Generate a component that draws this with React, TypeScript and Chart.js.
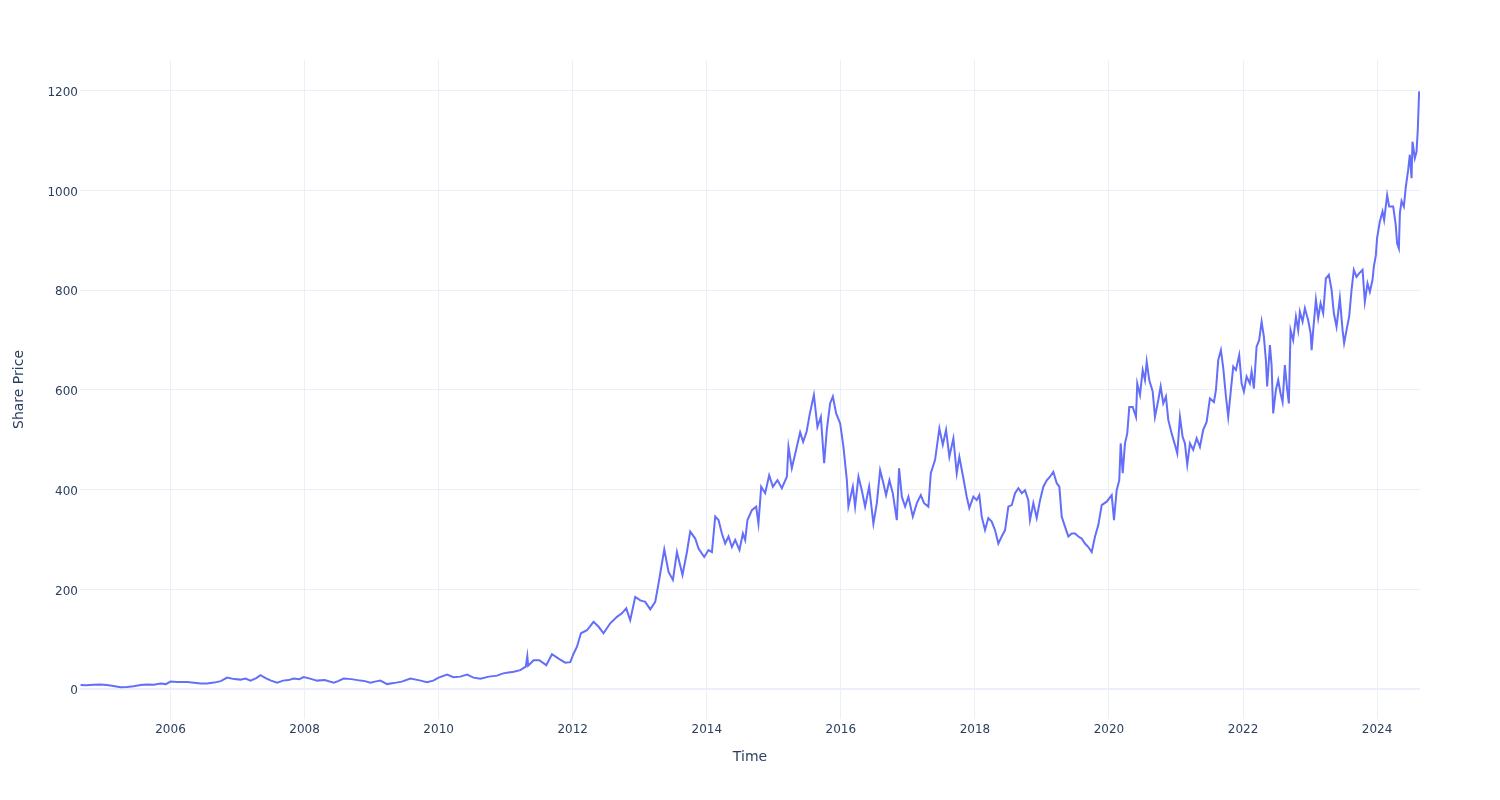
import { useEffect, useRef } from "react";
import { Chart, registerables } from "chart.js";

Chart.register(...registerables);

// Decimal years of each sampled point
const dates: number[] = [
  2004.658, 2004.75, 2004.85, 2004.956, 2005.05, 2005.15, 2005.255, 2005.35, 2005.45, 2005.553,
  2005.65, 2005.75, 2005.851, 2005.93, 2006.0, 2006.1, 2006.249, 2006.35, 2006.45, 2006.547,
  2006.65, 2006.75, 2006.845, 2006.95, 2007.044, 2007.12, 2007.193, 2007.28, 2007.342, 2007.42,
  2007.5, 2007.591, 2007.68, 2007.76, 2007.838, 2007.92, 2007.988, 2008.08, 2008.187, 2008.3,
  2008.435, 2008.5, 2008.584, 2008.7, 2008.833, 2008.9, 2008.982, 2009.05, 2009.131, 2009.231,
  2009.33, 2009.45, 2009.578, 2009.7, 2009.827, 2009.92, 2010.0, 2010.126, 2010.22, 2010.324,
  2010.424, 2010.52, 2010.622, 2010.75, 2010.871, 2010.95, 2011.02, 2011.12, 2011.218, 2011.3,
  2011.323, 2011.335, 2011.417, 2011.502, 2011.606, 2011.691, 2011.79, 2011.889, 2011.964, 2012.013,
  2012.064, 2012.123, 2012.213, 2012.311, 2012.386, 2012.46, 2012.56, 2012.66, 2012.734, 2012.799,
  2012.858, 2012.933, 2013.008, 2013.082, 2013.157, 2013.231, 2013.281, 2013.331, 2013.366, 2013.43,
  2013.495, 2013.555, 2013.638, 2013.704, 2013.753, 2013.828, 2013.877, 2013.962, 2014.026, 2014.077,
  2014.126, 2014.175, 2014.226, 2014.275, 2014.324, 2014.375, 2014.424, 2014.488, 2014.539, 2014.573,
  2014.607, 2014.673, 2014.737, 2014.771, 2014.812, 2014.871, 2014.931, 2014.986, 2015.055, 2015.12,
  2015.195, 2015.219, 2015.269, 2015.333, 2015.393, 2015.438, 2015.489, 2015.538, 2015.598, 2015.651,
  2015.702, 2015.751, 2015.791, 2015.84, 2015.881, 2015.93, 2015.99, 2016.039, 2016.09, 2016.113,
  2016.179, 2016.213, 2016.263, 2016.313, 2016.362, 2016.422, 2016.486, 2016.537, 2016.586, 2016.635,
  2016.675, 2016.725, 2016.775, 2016.835, 2016.869, 2016.91, 2016.959, 2017.008, 2017.074, 2017.134,
  2017.193, 2017.242, 2017.306, 2017.342, 2017.406, 2017.47, 2017.521, 2017.57, 2017.619, 2017.679,
  2017.729, 2017.768, 2017.828, 2017.878, 2017.917, 2017.977, 2018.027, 2018.066, 2018.102, 2018.151,
  2018.2, 2018.251, 2018.3, 2018.35, 2018.4, 2018.45, 2018.499, 2018.55, 2018.599, 2018.648,
  2018.699, 2018.748, 2018.797, 2018.822, 2018.872, 2018.922, 2018.972, 2019.021, 2019.072, 2019.121,
  2019.17, 2019.221, 2019.26, 2019.295, 2019.344, 2019.394, 2019.444, 2019.493, 2019.543, 2019.593,
  2019.642, 2019.692, 2019.743, 2019.792, 2019.841, 2019.892, 2019.966, 2020.041, 2020.075, 2020.115,
  2020.154, 2020.175, 2020.205, 2020.239, 2020.273, 2020.303, 2020.354, 2020.403, 2020.422, 2020.463,
  2020.503, 2020.537, 2020.563, 2020.601, 2020.652, 2020.686, 2020.736, 2020.771, 2020.81, 2020.85,
  2020.885, 2020.935, 2020.984, 2021.019, 2021.059, 2021.099, 2021.133, 2021.168, 2021.208, 2021.257,
  2021.308, 2021.357, 2021.406, 2021.457, 2021.506, 2021.566, 2021.596, 2021.63, 2021.67, 2021.705,
  2021.745, 2021.779, 2021.819, 2021.854, 2021.894, 2021.943, 2021.979, 2022.013, 2022.053, 2022.102,
  2022.128, 2022.162, 2022.202, 2022.241, 2022.277, 2022.311, 2022.341, 2022.36, 2022.401, 2022.426,
  2022.45, 2022.49, 2022.525, 2022.56, 2022.59, 2022.624, 2022.659, 2022.684, 2022.709, 2022.748,
  2022.789, 2022.823, 2022.848, 2022.888, 2022.923, 2022.972, 2023.008, 2023.023, 2023.047, 2023.087,
  2023.121, 2023.157, 2023.196, 2023.236, 2023.281, 2023.321, 2023.355, 2023.395, 2023.444, 2023.485,
  2023.508, 2023.544, 2023.583, 2023.619, 2023.653, 2023.693, 2023.732, 2023.783, 2023.817, 2023.857,
  2023.892, 2023.932, 2023.951, 2023.981, 2024.0, 2024.041, 2024.081, 2024.105, 2024.15, 2024.18,
  2024.24, 2024.276, 2024.299, 2024.325, 2024.34, 2024.365, 2024.399, 2024.429, 2024.463, 2024.488,
  2024.514, 2024.528, 2024.563, 2024.588, 2024.607, 2024.627,
];

// Share price at each sampled date
const prices: number[] = [
  8, 7.5, 8.5, 9, 8, 6, 3.5, 4, 5.5, 8,
  9, 8.5, 11, 10, 15, 14, 14, 12.5, 11, 11,
  13, 16, 23, 20, 19, 21, 17, 22, 28, 22,
  17, 13, 17, 18, 21, 20, 24, 21, 17, 18,
  13, 16, 21, 20, 17, 16, 13, 15, 17, 10,
  12, 15, 21, 18, 14, 17, 23, 29, 24, 25,
  29, 23, 21, 25, 27, 31, 33, 35, 38, 45,
  66, 47, 58, 58, 48, 70, 61, 53, 54, 71,
  85, 112, 118, 135, 125, 112, 132, 145, 152, 162,
  138, 185, 178, 175, 160, 175, 212, 252, 280, 235,
  219, 275, 229, 275, 316, 302, 282, 265, 279, 275,
  346, 339, 312, 292, 306, 285, 299, 279, 312, 299,
  339, 359, 366, 332, 406, 393, 429, 406, 419, 403,
  426, 486, 443, 480, 515, 496, 516, 553, 590, 526,
  546, 453, 520, 573, 587, 553, 533, 486, 419, 366,
  406, 366, 426, 399, 366, 406, 332, 373, 439, 413,
  389, 419, 393, 339, 443, 386, 366, 386, 346, 373,
  389, 373, 366, 433, 460, 523, 490, 520, 466, 503,
  433, 466, 423, 386, 363, 386, 379, 389, 346, 319,
  343, 336, 319, 292, 306, 319, 366, 369, 393, 403,
  393, 399, 379, 339, 373, 343, 379, 406, 419, 426,
  436, 413, 406, 346, 326, 306, 312, 312, 306, 302,
  292, 285, 275, 306, 329, 369, 376, 389, 339, 399,
  419, 493, 433, 493, 513, 566, 566, 546, 613, 590,
  640, 620, 657, 620, 597, 546, 580, 607, 573, 587,
  540, 513, 490, 473, 546, 506, 493, 450, 493, 480,
  503, 486, 520, 536, 583, 576, 600, 660, 680, 644,
  587, 546, 600, 647, 640, 670, 613, 597, 627, 613,
  637, 603, 687, 700, 737, 707, 660, 607, 690, 650,
  553, 600, 620, 593, 576, 650, 600, 573, 720, 700,
  747, 720, 757, 737, 764, 740, 714, 680, 720, 781,
  744, 774, 754, 824, 831, 801, 754, 727, 784, 720,
  694, 720, 747, 801, 841, 827, 834, 841, 777, 814,
  797, 821, 847, 870, 905, 938, 958, 941, 991, 968,
  968, 934, 894, 884, 955, 979, 968, 1008, 1041, 1072,
  1025, 1098, 1065, 1078, 1122, 1199,
];

const xTicks: number[] = [2006, 2008, 2010, 2012, 2014, 2016, 2018, 2020, 2022, 2024];
const yTicks: number[] = [0, 200, 400, 600, 800, 1000, 1200];

const FONT = '"DejaVu Sans", Verdana, sans-serif';
const TEXT = "#2a3f5f";
const GRID = "#EBF0F8";

export default function App() {
  const ref = useRef<HTMLCanvasElement | null>(null);

  useEffect(() => {
    if (!ref.current) return;
    const chart = new Chart(ref.current, {
      type: "line",
      data: {
        datasets: [
          {
            data: dates.map((d, i) => ({ x: d, y: prices[i] })),
            borderColor: "#636efa",
            borderWidth: 2,
            pointRadius: 0,
            tension: 0,
            fill: false,
          },
        ],
      },
      options: {
        animation: false,
        responsive: false,
        devicePixelRatio: 1,
        layout: { padding: { top: 60, right: 80, bottom: 0, left: 0 } },
        plugins: { legend: { display: false }, tooltip: { enabled: false } },
        scales: {
          x: {
            type: "linear",
            min: 2004.65,
            max: 2024.64,
            afterBuildTicks: (s: any) => {
              s.ticks = xTicks.map((v) => ({ value: v }));
            },
            afterFit: (s: any) => {
              s.height = 81;
            },
            grid: { color: GRID, lineWidth: 1, drawTicks: false },
            border: { display: false },
            ticks: {
              color: TEXT,
              font: { family: FONT, size: 12 },
              padding: 4,
              maxRotation: 0,
              autoSkip: false,
              callback: (v: any) => String(v),
            },
            title: {
              display: true,
              text: "Time",
              color: TEXT,
              font: { family: FONT, size: 14 },
              padding: { top: 0, bottom: 34 },
            },
          },
          y: {
            type: "linear",
            min: -60,
            max: 1262,
            afterBuildTicks: (s: any) => {
              s.ticks = yTicks.map((v) => ({ value: v }));
            },
            afterFit: (s: any) => {
              s.width = 80;
            },
            grid: {
              color: GRID,
              lineWidth: (ctx: any) => (ctx.tick && ctx.tick.value === 0 ? 2 : 1),
              drawTicks: false,
            },
            border: { display: false },
            ticks: {
              color: TEXT,
              font: { family: FONT, size: 12 },
              padding: 2,
              labelOffset: 2,
              autoSkip: false,
              callback: (v: any) => String(v),
            },
            title: {
              display: true,
              text: "Share Price",
              color: TEXT,
              font: { family: FONT, size: 14 },
              padding: { top: 11, bottom: 0 },
            },
          },
        },
      },
    });
    return () => chart.destroy();
  }, []);

  return (
    <div style={{ position: "absolute", left: 0, top: 0, width: 1500, height: 800, background: "#fff" }}>
      <canvas ref={ref} width={1500} height={800} style={{ width: 1500, height: 800 }} />
    </div>
  );
}
